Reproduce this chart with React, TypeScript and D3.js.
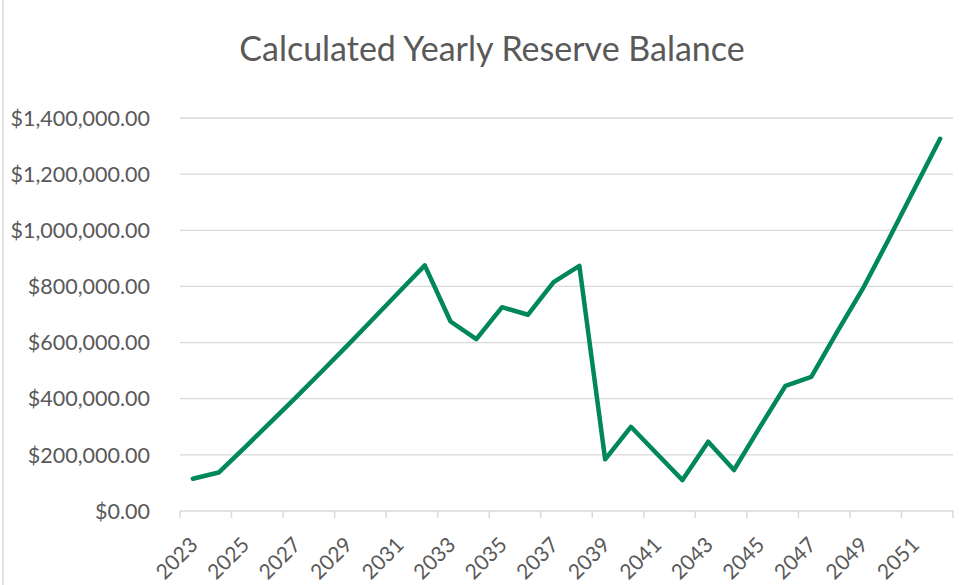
import React from "react";
import * as d3 from "d3";

const years = d3.range(2023, 2053).map(String);
const balances = [
  115000, 137000, 225000, 315000, 405000, 497000, 590000, 685000, 780000, 875000,
  675000, 612000, 726000, 699000, 815000, 873000, 184000, 300000, 205000, 110000,
  247000, 146000, 298000, 446000, 478000, 637000, 792000, 967000, 1147000, 1326000,
];
const yTicks = [0, 200000, 400000, 600000, 800000, 1000000, 1200000, 1400000];
const title = "Calculated Yearly Reserve Balance";

const width = 972;
const height = 585;
const left = 180;
const right = 953;
const top = 118;
const bottom = 511;
const font = "Lato, 'Open Sans', sans-serif";
const textColor = "#595959";
const gridColor = "#d9d9d9";

const App = () => {
  const x = d3.scaleBand().domain(years).range([left, right]).padding(0);
  const y = d3.scaleLinear().domain([0, 1400000]).range([bottom, top]);
  const fmt = (v: number) => "$" + d3.format(",.2f")(v);

  const line = d3
    .line<number>()
    .x((_, i) => x(years[i])! + x.bandwidth() / 2)
    .y((d) => y(d));

  // tick marks every second category boundary
  const tickIdx = d3.range(0, years.length + 1, 2);

  return (
    <svg
      width={width}
      height={height}
      style={{ position: "absolute", left: 0, top: 0, background: "#fff" }}
    >
      <line x1={3} x2={3} y1={0} y2={height} stroke={gridColor} strokeWidth={1.5} />
      <text
        x={492}
        y={61}
        textAnchor="middle"
        fontFamily={font}
        fontSize={34}
        fill={textColor}
      >
        {title}
      </text>

      {yTicks.map((t) => (
        <g key={t}>
          {t > 0 && (
            <line x1={left} x2={right} y1={y(t)} y2={y(t)} stroke={gridColor} strokeWidth={1.3} />
          )}
          <text
            x={150}
            y={y(t)}
            dy="0.36em"
            textAnchor="end"
            fontFamily={font}
            fontSize={21.5}
            fill={textColor}
          >
            {fmt(t)}
          </text>
        </g>
      ))}

      <line x1={left} x2={right} y1={bottom} y2={bottom} stroke={gridColor} strokeWidth={1.5} />
      {tickIdx.map((i) => {
        const tx = left + i * x.step();
        return (
          <line key={i} x1={tx} x2={tx} y1={bottom} y2={bottom + 7} stroke={gridColor} strokeWidth={1.5} />
        );
      })}
      {years
        .filter((_, i) => i % 2 === 0)
        .map((yr) => {
          const cx = x(yr)! + x.bandwidth() / 2;
          return (
            <text
              key={yr}
              transform={`translate(${cx + 1},${bottom + 30}) rotate(-45)`}
              textAnchor="end"
              dy="0.35em"
              fontFamily={font}
              fontSize={21}
              fill={textColor}
            >
              {yr}
            </text>
          );
        })}

      <path
        d={line(balances)!}
        fill="none"
        stroke="#00875a"
        strokeWidth={4.5}
        strokeLinejoin="round"
        strokeLinecap="round"
      />
    </svg>
  );
};

export default App;
